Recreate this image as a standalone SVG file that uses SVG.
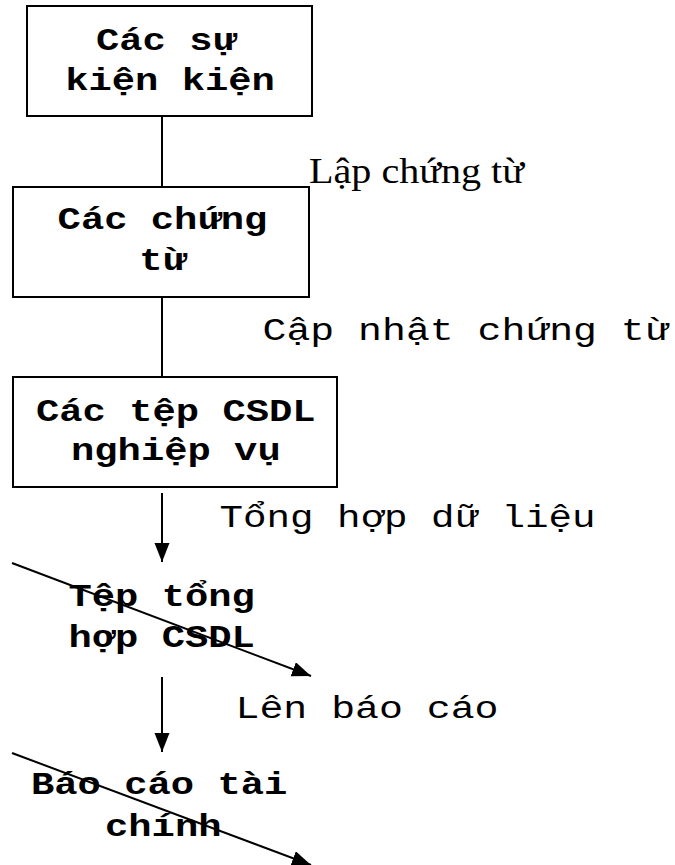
<svg xmlns="http://www.w3.org/2000/svg" width="675" height="865" viewBox="0 0 675 865">
  <style>
    .box { fill: #ffffff; stroke: #000000; stroke-width: 2; }
    .node { font-family: "Courier New", "Liberation Mono", monospace; font-weight: bold; font-size: 32px; fill: #000000; }
    .flow { font-family: "Courier New", "Liberation Mono", monospace; font-size: 31px; fill: #000000; }
    .note { font-family: "Times New Roman", "Liberation Serif", serif; font-size: 36px; fill: #000000; }
    .wire { stroke: #000000; stroke-width: 2; fill: none; }
    .arrow { marker-end: url(#head); }
  </style>
  <defs>
    <marker id="head" markerUnits="userSpaceOnUse" markerWidth="20" markerHeight="16" refX="19" refY="7.5" orient="auto">
      <path d="M0,0 L19,7.5 L0,15 Z" fill="#000000"/>
    </marker>
  </defs>
  <rect width="675" height="865" fill="#ffffff"/>

  <!-- connectors -->
  <g id="connectors">
    <line class="wire" x1="162" y1="116" x2="162" y2="187"/>
    <line class="wire" x1="162" y1="297" x2="162" y2="377"/>
    <line class="wire arrow" x1="162" y1="493" x2="162" y2="562"/>
    <line class="wire arrow" x1="162" y1="677" x2="162" y2="752"/>
    <line class="wire arrow" x1="12" y1="563" x2="311" y2="676"/>
    <line class="wire arrow" x1="12" y1="753" x2="311" y2="865"/>
  </g>

  <!-- step labels -->
  <g id="labels">
    <text class="note" x="309" y="183" textLength="215" lengthAdjust="spacingAndGlyphs">Lập chứng từ</text>
    <text class="flow" x="262.6" y="340" textLength="406" lengthAdjust="spacingAndGlyphs">Cập nhật chứng từ</text>
    <text class="flow" x="219.5" y="527" textLength="376" lengthAdjust="spacingAndGlyphs">Tổng hợp dữ liệu</text>
    <text class="flow" x="235.5" y="718" textLength="263" lengthAdjust="spacingAndGlyphs">Lên báo cáo</text>
  </g>

  <g id="su-kien">
    <rect class="box" x="27" y="6" width="285" height="110"/>
    <text class="node" x="96" y="49.5" textLength="139.8" lengthAdjust="spacingAndGlyphs">Các sự</text>
    <text class="node" x="65.2" y="89.5" textLength="209.7" lengthAdjust="spacingAndGlyphs">kiện kiện</text>
  </g>

  <g id="chung-tu">
    <rect class="box" x="13" y="187" width="296" height="110"/>
    <text class="node" x="57.6" y="228.5" textLength="209.7" lengthAdjust="spacingAndGlyphs">Các chứng</text>
    <text class="node" x="139.2" y="269.5" textLength="46.6" lengthAdjust="spacingAndGlyphs">từ</text>
  </g>

  <g id="tep-nghiep-vu">
    <rect class="box" x="13" y="377" width="324" height="110"/>
    <text class="node" x="36" y="421" textLength="279.6" lengthAdjust="spacingAndGlyphs">Các tệp CSDL</text>
    <text class="node" x="71" y="460" textLength="209.7" lengthAdjust="spacingAndGlyphs">nghiệp vụ</text>
  </g>

  <g id="tep-tong-hop">
    <text class="node" x="68.5" y="606" textLength="186.4" lengthAdjust="spacingAndGlyphs">Tệp tổng</text>
    <text class="node" x="68.5" y="647" textLength="186.4" lengthAdjust="spacingAndGlyphs">hợp CSDL</text>
  </g>

  <g id="bao-cao">
    <text class="node" x="31" y="794" textLength="256.3" lengthAdjust="spacingAndGlyphs">Báo cáo tài</text>
    <text class="node" x="105" y="836" textLength="116.5" lengthAdjust="spacingAndGlyphs">chính</text>
  </g>
</svg>
